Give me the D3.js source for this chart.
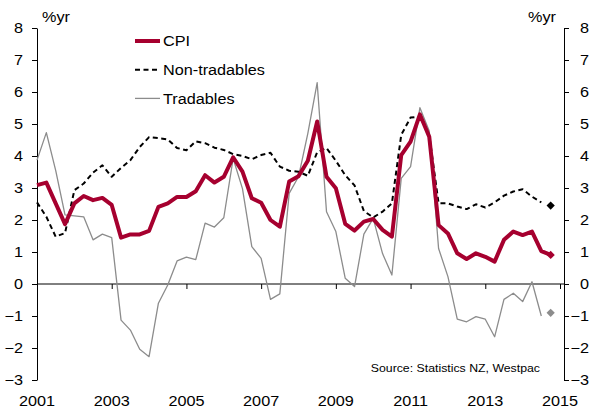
<!DOCTYPE html>
<html>
<head>
<meta charset="utf-8">
<script src="https://cdn.jsdelivr.net/npm/d3@7/dist/d3.min.js"></script>
<style>
  body { margin: 0; background: #fff; }
  text { font-family: "Liberation Sans", Arial, sans-serif; fill: #000; }
</style>
</head>
<body>
<svg id="chart" width="593" height="408"></svg>
<script>
'use strict';

// quarterly annual % change, first point = 2001.0, step 0.25yr
var startYear = 2001;
var cpi = [3.09,3.17,2.52,1.87,2.52,2.75,2.62,2.69,2.47,1.45,1.55,1.55,1.66,2.41,2.52,2.72,2.72,2.90,3.40,
  3.17,3.35,3.96,3.51,2.68,2.54,2.00,1.79,3.20,3.37,3.85,5.08,3.35,2.99,1.88,1.67,1.95,2.03,1.69,
  1.48,4.03,4.45,5.30,4.60,1.84,1.58,0.96,0.78,0.96,0.85,0.70,1.38,1.64,1.53,1.64,1.03,0.91];
var nonTradables = [2.55,2.10,1.48,1.59,2.93,3.14,3.48,3.71,3.35,3.63,3.87,4.28,4.59,4.56,4.52,4.25,4.18,4.46,4.40,
  4.26,4.19,4.06,4.00,3.90,4.03,4.10,3.67,3.54,3.51,3.38,4.12,4.25,3.85,3.40,3.08,2.28,2.08,2.26,
  2.52,4.66,5.20,5.23,4.66,2.52,2.52,2.42,2.34,2.49,2.39,2.55,2.76,2.89,2.96,2.73,2.55];
var tradables = [3.87,4.73,3.55,2.16,2.13,2.10,1.38,1.56,1.45,-1.13,-1.44,-2.04,-2.27,-0.60,-0.03,0.72,0.84,0.76,1.90,
  1.78,2.07,3.92,2.98,1.17,0.80,-0.48,-0.31,2.83,3.35,4.71,6.29,2.26,1.64,0.18,-0.08,1.56,2.05,0.95,
  0.28,3.30,3.67,5.51,4.78,1.11,0.23,-1.10,-1.18,-1.02,-1.10,-1.65,-0.48,-0.29,-0.55,0.07,-1.00];
// forecast markers (next quarter)
var nonTradablesForecast = 2.45;
var tradablesForecast = -0.90;

var yTicks = [-3,-2,-1,0,1,2,3,4,5,6,7,8];
var yearTicks = [2001,2003,2005,2007,2009,2011,2013,2015];
var legendItems = [
  { name: "CPI", key: "cpi" },
  { name: "Non-tradables", key: "nt" },
  { name: "Tradables", key: "tr" }
];
var sourceText = "Source: Statistics NZ, Westpac";

(function() {
  var SX = 1.12; // text in the original is slightly stretched horizontally
  var red = "#a6002f", grey = "#8c8c8c";
  var styles = {
    cpi: { stroke: red, width: 4, dash: null },
    nt: { stroke: "#000", width: 2, dash: "5,3.5" },
    tr: { stroke: grey, width: 1.3, dash: null }
  };

  var svg = d3.select("#chart");
  var plotLeft = 37, plotRight = 564, plotTop = 28, plotBottom = 380;

  var x = d3.scaleLinear().domain([2001, 2015]).range([37, 560]);
  var y = d3.scaleLinear().domain([-3, 8]).range([plotBottom, plotTop]);

  function toPoints(arr) {
    return arr.map(function(v, i){ return { t: startYear + i*0.25, v: v }; });
  }

  function label(g, px, py, str, anchor, size) {
    return g.append("text")
      .attr("transform", "translate(" + px + "," + py + ") scale(" + SX + ",1)")
      .attr("text-anchor", anchor)
      .style("font-size", size + "px")
      .text(str);
  }

  // axes
  var yl = svg.append("g").attr("transform", "translate(" + plotLeft + ",0)")
    .call(d3.axisLeft(y).tickValues(yTicks).tickSize(5).tickSizeOuter(0).tickFormat(d3.format("d")));
  var yr = svg.append("g").attr("transform", "translate(" + plotRight + ",0)")
    .call(d3.axisRight(y).tickValues(yTicks).tickSize(5).tickSizeOuter(0).tickFormat(d3.format("d")));

  [yl, yr].forEach(function(g, k){
    g.selectAll("text")
      .attr("x", 0)
      .attr("text-anchor", "end")
      .attr("transform", "translate(" + (k === 0 ? -14 : 25) + ",0) scale(" + SX + ",1)")
      .style("font-size", "14.5px")
      .style("font-family", "Liberation Sans, Arial, sans-serif");
    g.selectAll("path, line").attr("stroke", "#000");
  });

  var xa = svg.append("g").attr("transform", "translate(0," + y(0) + ")")
    .call(d3.axisBottom(x).tickValues(yearTicks).tickSize(5).tickSizeOuter(0).tickFormat(""));
  xa.select(".domain").remove();
  xa.selectAll("line").attr("stroke", "#000");
  svg.append("line")
    .attr("x1", plotLeft).attr("x2", plotRight)
    .attr("y1", y(0)).attr("y2", y(0))
    .attr("stroke", "#000").attr("stroke-width", 1);

  var xl = svg.append("g");
  yearTicks.forEach(function(yv){
    label(xl, x(yv), 405.5, String(yv), "middle", 14.5);
  });

  label(svg, 42, 22, "%yr", "start", 14.5);
  label(svg, 528, 22, "%yr", "start", 14.5);

  // lines
  var line = d3.line()
    .x(function(d){ return x(d.t); })
    .y(function(d){ return y(d.v); });

  function drawSeries(arr, st) {
    svg.append("path")
      .datum(toPoints(arr))
      .attr("fill", "none")
      .attr("stroke", st.stroke)
      .attr("stroke-width", st.width)
      .attr("stroke-dasharray", st.dash)
      .attr("stroke-linejoin", "round")
      .attr("d", line);
  }

  drawSeries(tradables, styles.tr);
  drawSeries(nonTradables, styles.nt);
  drawSeries(cpi, styles.cpi);

  // markers
  var diamond = d3.symbol().type(d3.symbolSquare).size(34);
  var markers = [
    { t: startYear + tradables.length*0.25, v: tradablesForecast, c: grey },
    { t: startYear + nonTradables.length*0.25, v: nonTradablesForecast, c: "#000" },
    { t: startYear + (cpi.length-1)*0.25, v: cpi[cpi.length-1], c: red }
  ];
  svg.selectAll(".mk").data(markers).enter().append("path")
    .attr("class", "mk")
    .attr("d", diamond)
    .attr("fill", function(d){ return d.c; })
    .attr("transform", function(d){ return "translate(" + x(d.t) + "," + y(d.v) + ") rotate(45)"; });

  // legend
  var lg = svg.append("g");
  legendItems.forEach(function(item, i){
    var st = styles[item.key];
    var ly = 41 + i*28.7;
    lg.append("line")
      .attr("x1", 135).attr("x2", 160)
      .attr("y1", ly).attr("y2", ly)
      .attr("stroke", st.stroke)
      .attr("stroke-width", st.width)
      .attr("stroke-dasharray", st.dash);
    label(lg, 163, ly + 5.2, item.name, "start", 14.5);
  });

  label(svg, 540, 372, sourceText, "end", 11);
})();
</script>
</body>
</html>
